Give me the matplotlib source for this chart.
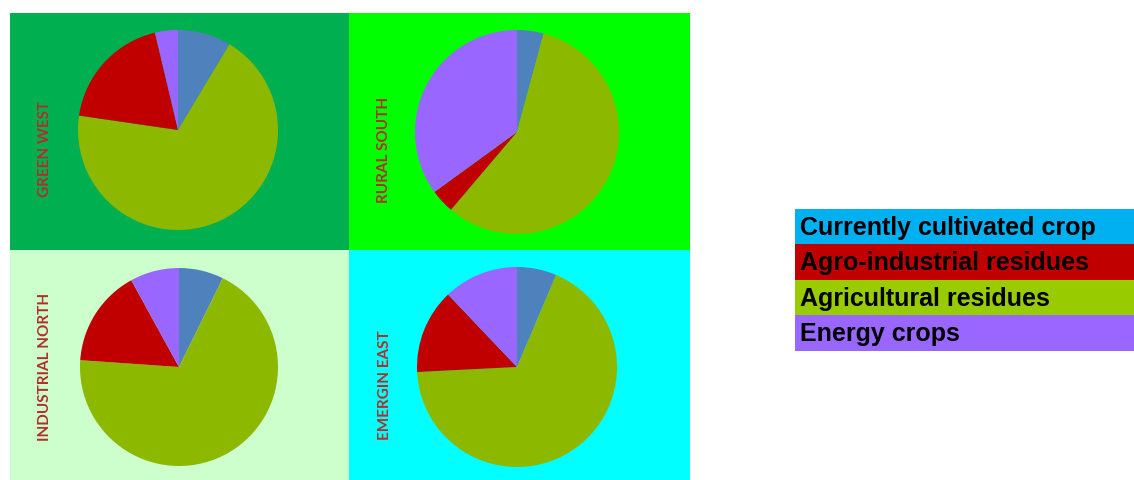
import matplotlib
matplotlib.use("Agg")
import matplotlib.pyplot as plt

# categories in legend order
categories = ["Currently cultivated crop", "Agro-industrial residues",
              "Agricultural residues", "Energy crops"]
legend_colors = ["#00B0F0", "#C00000", "#99CC00", "#9966FF"]
pie_colors = ["#4F81BD", "#C00000", "#8DB800", "#9966FF"]

regions = ["GREEN WEST", "RURAL SOUTH", "INDUSTRIAL NORTH", "EMERGIN EAST"]
# shares (%) per region, legend order
currently = [8.6, 4.2, 7.3, 6.4]
agro_ind = [19.0, 3.8, 15.9, 13.7]
agricultural = [68.7, 57.0, 68.8, 67.8]
energy = [3.7, 35.0, 8.0, 12.1]

# draw order clockwise from 12 o'clock
draw_order = [0, 2, 1, 3]

W, H = 1134, 480
panel_bg = ["#00B050", "#00FF00", "#CCFFCC", "#00FFFF"]
# panel rects in image pixels: x0, y0, x1, y1
panels = [(10, 13, 349, 250), (349, 13, 690, 250),
          (10, 250, 349, 480), (349, 250, 690, 480)]
pie_pos = [(168, 117, 100), (168, 119, 102), (169, 117, 99), (168, 117, 100)]
label_pos = [(35, 136), (35, 137), (35, 117), (36, 135)]

fig = plt.figure(figsize=(W / 100, H / 100), dpi=100)

for i, region in enumerate(regions):
    x0, y0, x1, y1 = panels[i]
    pw, ph = x1 - x0, y1 - y0
    ax = fig.add_axes([x0 / W, 1 - y1 / H, pw / W, ph / H])
    ax.set_facecolor(panel_bg[i])
    vals = [currently[i], agro_ind[i], agricultural[i], energy[i]]
    cx, cy, r = pie_pos[i]
    ax.pie([vals[k] for k in draw_order], colors=[pie_colors[k] for k in draw_order],
           startangle=90, counterclock=False, center=(cx, ph - cy), radius=r,
           wedgeprops=dict(linewidth=0), frame=True)
    ax.set_xlim(0, pw)
    ax.set_ylim(0, ph)
    ax.set_xticks([])
    ax.set_yticks([])
    for s in ax.spines.values():
        s.set_visible(False)
    lx, ly = label_pos[i]
    ax.text(lx, ph - ly, region, rotation=90, ha="center", va="center",
            color="#B0302A", fontsize=11, fontweight="bold", family="Lato")

# legend as coloured bars
lax = fig.add_axes([795 / W, 1 - 351 / H, (1134 - 795) / W, (351 - 209) / H])
n = len(categories)
lax.barh(range(n), [1] * n, height=1.0, color=legend_colors, left=0)
lax.set_xlim(0, 1)
lax.set_ylim(n - 0.5, -0.5)
lax.axis("off")
for k, name in enumerate(categories):
    lax.text(0.015, k + 0.03, name, ha="left", va="center", fontsize=18,
             fontweight="bold", family="Liberation Sans", color="black")

plt.savefig("out.png", dpi=100)
